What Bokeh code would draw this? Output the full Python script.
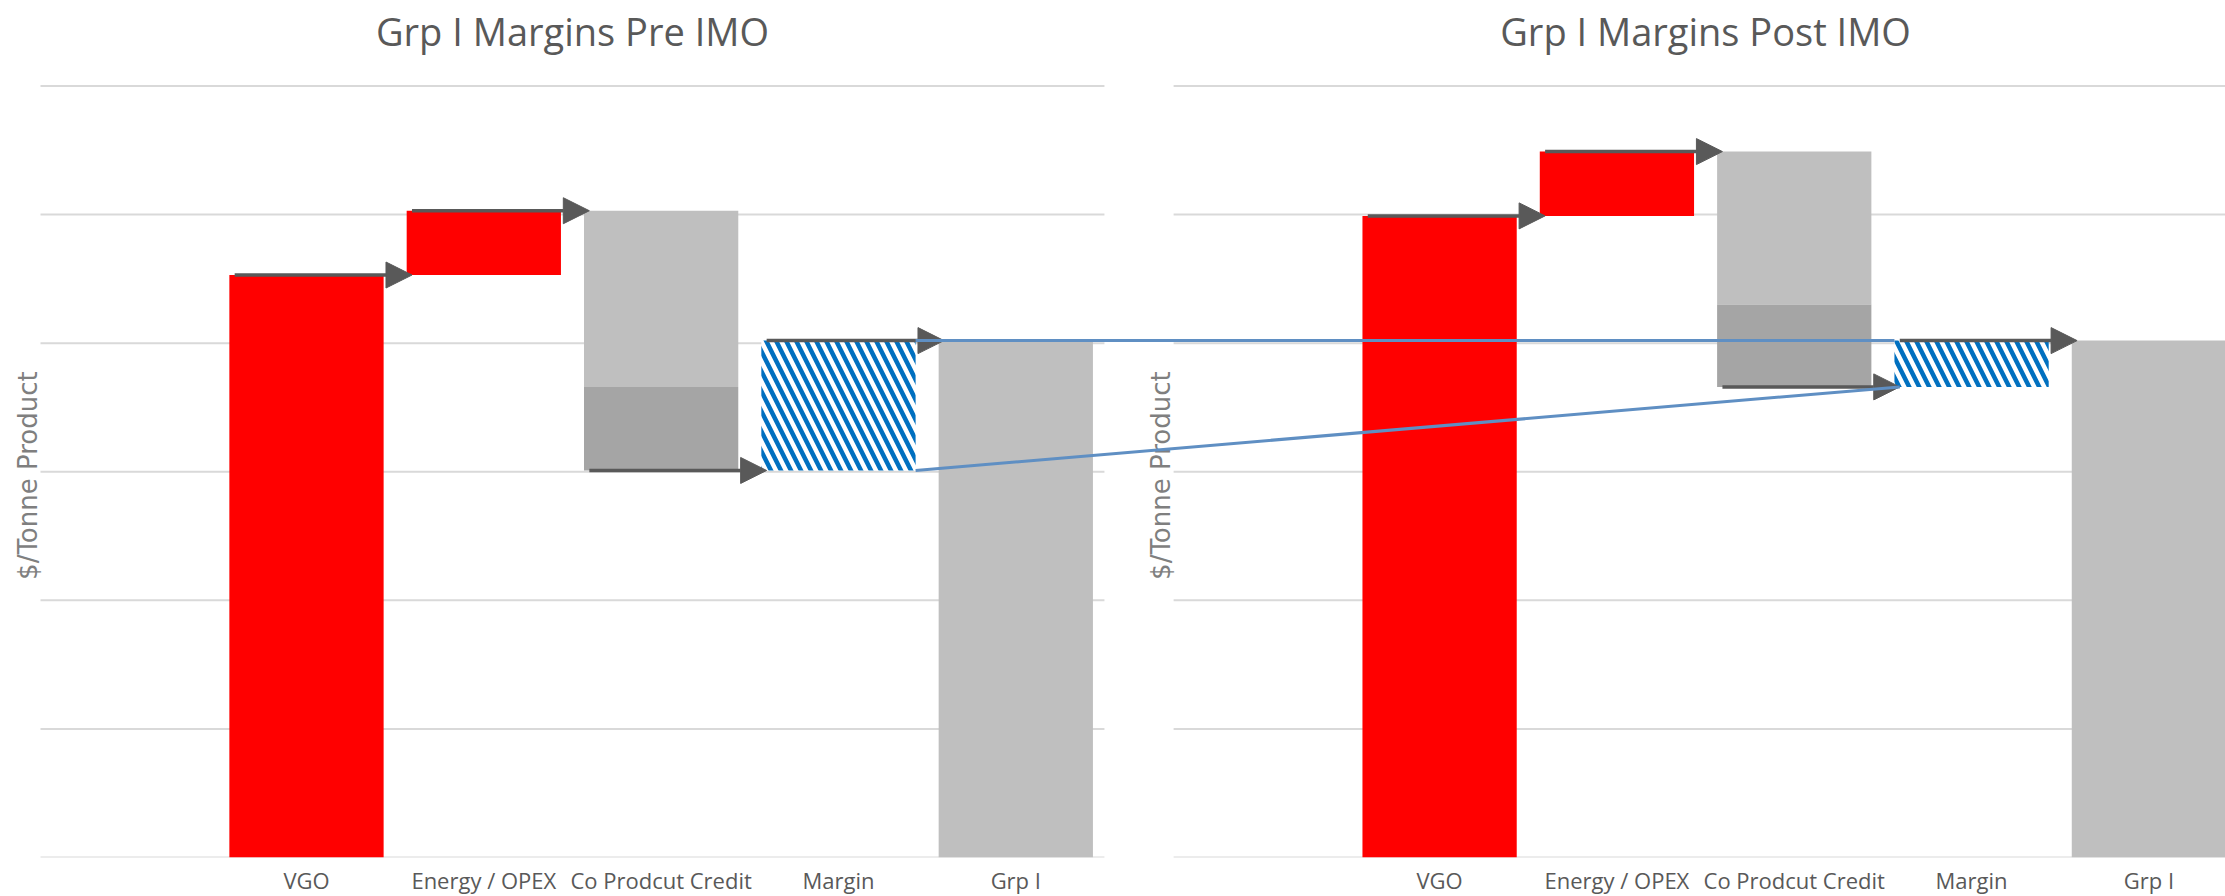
import math
from bokeh.plotting import figure
from bokeh.models import ColumnDataSource, Range1d, FixedTicker, Arrow, NormalHead
from bokeh.core.properties import value
from bokeh.embed import file_html
from bokeh.resources import INLINE

# ---------------- data ----------------
categories = ["", "VGO", "Energy / OPEX", "Co Prodcut Credit", "Margin", "Grp I"]
titles = ["Grp I Margins Pre IMO", "Grp I Margins Post IMO"]
y_label = "$/Tonne Product"
gridline_values = [0, 100, 200, 300, 400, 500, 600]

# waterfall steps ($/t), pre IMO
pre_vgo = 453
pre_energy_opex = 50
pre_coproduct_credit_main = 137
pre_coproduct_credit_other = 65
pre_margin = 101

# waterfall steps ($/t), post IMO
post_vgo = 499
post_energy_opex = 50
post_coproduct_credit_main = 119
post_coproduct_credit_other = 64
post_margin = 36

panels = [
    dict(vgo=pre_vgo, energy=pre_energy_opex, co_a=pre_coproduct_credit_main,
         co_b=pre_coproduct_credit_other, margin=pre_margin),
    dict(vgo=post_vgo, energy=post_energy_opex, co_a=post_coproduct_credit_main,
         co_b=post_coproduct_credit_other, margin=post_margin),
]

# ---------------- layout / style ----------------
PANEL_OFFSETS = [0.0, 6.39]
BAR_W = 0.87
RED = "#FF0000"
LIGHT = "#BFBFBF"
DARK = "#A5A5A5"
HATCH = "#0070C0"
ARROW = "#595959"
BLUE = "#5F8FC3"
GRID = "#D9D9D9"
TXT = "#595959"

p = figure(frame_width=2225, frame_height=857,
           x_range=Range1d(-0.2256, 12.322), y_range=Range1d(0, 666.5),
           output_backend="svg", toolbar_location=None,
           y_axis_location=None, x_axis_location="below",
           min_border_left=0, min_border_right=0, min_border_top=0, min_border_bottom=0)
p.outline_line_color = None
p.grid.visible = False
p.background_fill_color = "white"
p.border_fill_color = "white"

tick_pos = []
tick_labels = {}
cum = []

for k, (o, d) in enumerate(zip(PANEL_OFFSETS, panels)):
    def c(i, o=o):
        return o + i + 0.5

    v0 = d["vgo"]
    v1 = v0 + d["energy"]
    v2a = v1 - d["co_a"]
    v2 = v2a - d["co_b"]
    v3 = v2 + d["margin"]
    grp = v3
    cum.append((v0, v1, v2, v3))

    # gridlines
    p.segment(x0=[o] * len(gridline_values), x1=[o + 6] * len(gridline_values),
              y0=gridline_values, y1=gridline_values,
              line_color=GRID, line_width=2, level="underlay")

    # red bars
    p.vbar(x=[c(1), c(2)], width=BAR_W, bottom=[0, v0], top=[v0, v1],
           fill_color=RED, line_color=None)
    # light gray bars
    p.vbar(x=[c(3), c(5)], width=BAR_W, bottom=[v2a, 0], top=[v1, grp],
           fill_color=LIGHT, line_color=None)
    # dark gray part of co-product credit
    p.vbar(x=[c(3)], width=BAR_W, bottom=[v2], top=[v2a],
           fill_color=DARK, line_color=None)
    # hatched margin
    p.vbar(x=[c(4)], width=BAR_W, bottom=[v2], top=[v3],
           fill_color="white", line_color=None,
           hatch_pattern="\\", hatch_color=HATCH, hatch_scale=20, hatch_weight=4.5)

    # arrows
    xs = [c(i) - BAR_W / 2 + 0.03 for i in range(1, 5)]
    xe = [x + 1 for x in xs]
    ys = [v0, v1, v2, v3]
    src = ColumnDataSource(dict(xs=xs, xe=xe, y=ys))
    p.add_layout(Arrow(x_start="xs", y_start="y", x_end="xe", y_end="y", source=src,
                       line_color=ARROW, line_width=3.5,
                       end=NormalHead(size=26, fill_color=ARROW, line_color=ARROW, line_width=1)))

    # ticks
    for i in range(1, 6):
        tick_pos.append(c(i))
        tick_labels[c(i)] = categories[i]

    # title
    p.text(x=[o + 3], y=[643], text=[titles[k]], text_align="center", text_baseline="middle",
           text_font=value("Open Sans"), text_font_size="38px", text_color=TXT)
    # y label
    p.text(x=[o - 0.073], y=[297], text=[y_label], angle=math.pi / 2,
           text_align="center", text_baseline="middle",
           text_font=value("DejaVu Sans"), text_font_size="26px", text_color="#7F7F7F")

# connecting blue lines
m_left = PANEL_OFFSETS[0] + 4.5 + BAR_W / 2
m_right = PANEL_OFFSETS[1] + 4.5 - BAR_W / 2
p.segment(x0=[m_left, m_left], y0=[cum[0][3], cum[0][2]],
          x1=[m_right, m_right + 0.03], y1=[cum[1][3], cum[1][2]],
          line_color=BLUE, line_width=3, level="overlay")

ax = p.xaxis[0]
ax.ticker = FixedTicker(ticks=tick_pos)
ax.major_label_overrides = tick_labels
ax.major_tick_out = 0
ax.major_tick_in = 0
ax.minor_tick_out = 0
ax.minor_tick_in = 0
ax.axis_line_color = None
ax.major_label_standoff = 7
ax.major_label_text_font = "Open Sans"
ax.major_label_text_font_size = "22px"
ax.major_label_text_color = TXT

open("out.html", "w").write(file_html(p, INLINE))
